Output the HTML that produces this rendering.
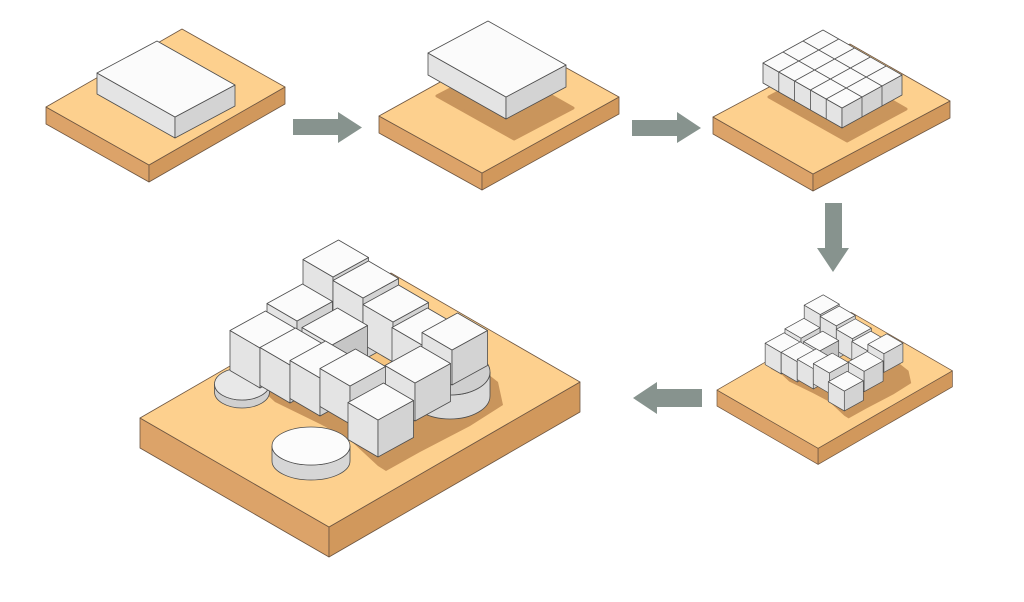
<!DOCTYPE html>
<html><head><meta charset="utf-8">
<style>html,body{margin:0;padding:0;background:#fff;}svg{display:block}</style>
</head><body>
<svg id="s" width="1024" height="602" viewBox="0 0 1024 602" xmlns="http://www.w3.org/2000/svg">
<rect x="0" y="0" width="1024" height="602" fill="#ffffff"/>
</svg>
<script>
const NS='http://www.w3.org/2000/svg';
const svg=document.getElementById('s');
function el(tag,attrs,parent){const e=document.createElementNS(NS,tag);for(const k in attrs)e.setAttribute(k,attrs[k]);(parent||svg).appendChild(e);return e;}
function poly(pts,fill,stroke,sw,parent){return el('polygon',{points:pts.map(p=>p[0].toFixed(1)+','+p[1].toFixed(1)).join(' '),fill:fill,stroke:stroke||'none','stroke-width':sw||0,'stroke-linejoin':'round'},parent);}
function line(p,q,stroke,sw,parent){return el('line',{x1:p[0],y1:p[1],x2:q[0],y2:q[1],stroke:stroke,'stroke-width':sw},parent);}
const add=(p,q)=>[p[0]+q[0],p[1]+q[1]];
const mul=(p,k)=>[p[0]*k,p[1]*k];
function box(L,a,b,h,c,parent){
  const F=add(L,a), R=add(F,b), B=add(L,b);
  const dn=p=>[p[0],p[1]+h];
  poly([L,F,dn(F),dn(L)],c.left,c.stroke,c.sw,parent);
  poly([F,R,dn(R),dn(F)],c.right,c.stroke,c.sw,parent);
  poly([L,F,R,B],c.top,c.stroke,c.sw,parent);
}
const slabC={top:'#fdd08e',left:'#dca369',right:'#d1985c',stroke:'#6e5641',sw:0.8};
const boxC={top:'#fbfbfb',left:'#e4e4e4',right:'#d3d3d3',stroke:'#4d4d4d',sw:0.8};
const shadowCol='#c9955c';
const arrowCol='#87938e';

/* ---------- Stage 1 ---------- */
box([46,107],[103,58],[136,-78],17,slabC);
box([97,73],[78,44],[60,-32],21,boxC);

/* ---------- Stage 2 ---------- */
box([379,116],[103,57],[137,-76],17,slabC);
poly([[437,96],[514,139],[573,108],[497,65]],shadowCol,shadowCol,3);
box([428,53],[78,44],[60,-32],22,boxC);

/* ---------- Stage 3 ---------- */
box([713,117],[100,57],[137,-73],17,slabC);
poly([[769,97],[847,141],[906,109],[829,65]],shadowCol,shadowCol,3);
(function(){
  const L=[763,63],a=[79,45],b=[60,-33],h=20;
  box(L,a,b,h,boxC);
  const F=add(L,a);
  for(let i=1;i<5;i++){
    const p=add(L,mul(a,i/5));
    line(p,add(p,b),'#4d4d4d',0.8);
    line(p,[p[0],p[1]+h],'#4d4d4d',0.8);
  }
  for(let j=1;j<3;j++){
    const p=add(L,mul(b,j/3));
    line(p,add(p,a),'#4d4d4d',0.8);
    const q=add(F,mul(b,j/3));
    line(q,[q[0],q[1]+h],'#4d4d4d',0.8);
  }
})();

/* ---------- Arrows ---------- */
poly([[293,119],[338,119],[338,112],[362,127.5],[338,143],[338,135],[293,135]],arrowCol);
poly([[632,120],[677,120],[677,112],[701,128],[677,143],[677,136],[632,136]],arrowCol);
poly([[825,203],[842,203],[842,248],[849,248],[833,272],[817,248],[825,248]],arrowCol);
poly([[702,389],[657,389],[657,382],[633,398],[657,414],[657,407],[702,407]],arrowCol);

/* ---------- Cluster (big & small) ---------- */
function drum(cx,cy,rx,ry,t,topFill,sideFill,stroke,sw,parent){
  const d='M'+(cx-rx)+','+cy+' L'+(cx-rx)+','+(cy+t)+' A'+rx+','+ry+' 0 0 0 '+(cx+rx)+','+(cy+t)+' L'+(cx+rx)+','+cy+' A'+rx+','+ry+' 0 0 1 '+(cx-rx)+','+cy+' Z';
  el('path',{d:d,fill:sideFill,stroke:stroke,'stroke-width':sw},parent);
  el('ellipse',{cx:cx,cy:cy,rx:rx,ry:ry,fill:topFill,stroke:stroke,'stroke-width':sw},parent);
}
function cluster(g,withDrums,sw){
  const sc={top:slabC.top,left:slabC.left,right:slabC.right,stroke:slabC.stroke,sw:sw};
  const bc={top:boxC.top,left:boxC.left,right:boxC.right,stroke:boxC.stroke,sw:sw};
  const bcH={top:boxC.top,left:boxC.left,right:'#c6c6c6',stroke:boxC.stroke,sw:sw};
  box([140,418],[189,109],[251,-145],30,sc,g);
  // shadow on slab
  poly([[240,378],[262,390],[275,402],[320,424],[350,440],[378,466],[386,471],[420,452],[470,426],[503,405],[498,382],[470,360],[410,320],[330,320],[270,350]],shadowCol,'none',0,g);
  // hole floor
  poly([[363,345],[398,364],[386,373],[363,362]],'#f6c580','none',0,g);
  const a=[30,17.5],b=[35.5,-19.5];
  function cube(fx,fy,h,c){box([fx-a[0],fy-a[1]],a,b,h,c||bc,g);}
  cube(333,277,70);       // A
  cube(363,298,62);       // D
  cube(297,321,45);       // B
  cube(393,322,40);       // E
  if(withDrums) drum(450,372,40,23,24,'#cfcfcf','#dadada',boxC.stroke,sw,g);
  cube(332,345,40,bcH);   // H
  if(withDrums) drum(242,384,27.5,16,8,'#e8e8e8','#d0d0d0',boxC.stroke,sw,g);
  cube(260,348,40);       // C
  cube(422,345,38);       // F
  cube(290,365,38);       // I
  cube(452,350,35);       // G
  cube(320,378,38);       // J
  cube(415,383,38);       // L
  cube(350,386,38);       // K
  cube(378,420,37);       // F1
  if(withDrums) drum(311,446,39,19,15,'#fcfcfc','#d6d6d6',boxC.stroke,sw,g);
}
const g1=el('g',{});
cluster(g1,true,0.8);
const g2=el('g',{transform:'matrix(0.535,0,0,0.535,642.1,166.4)'});
cluster(g2,false,1.3);
</script>
</body></html>
